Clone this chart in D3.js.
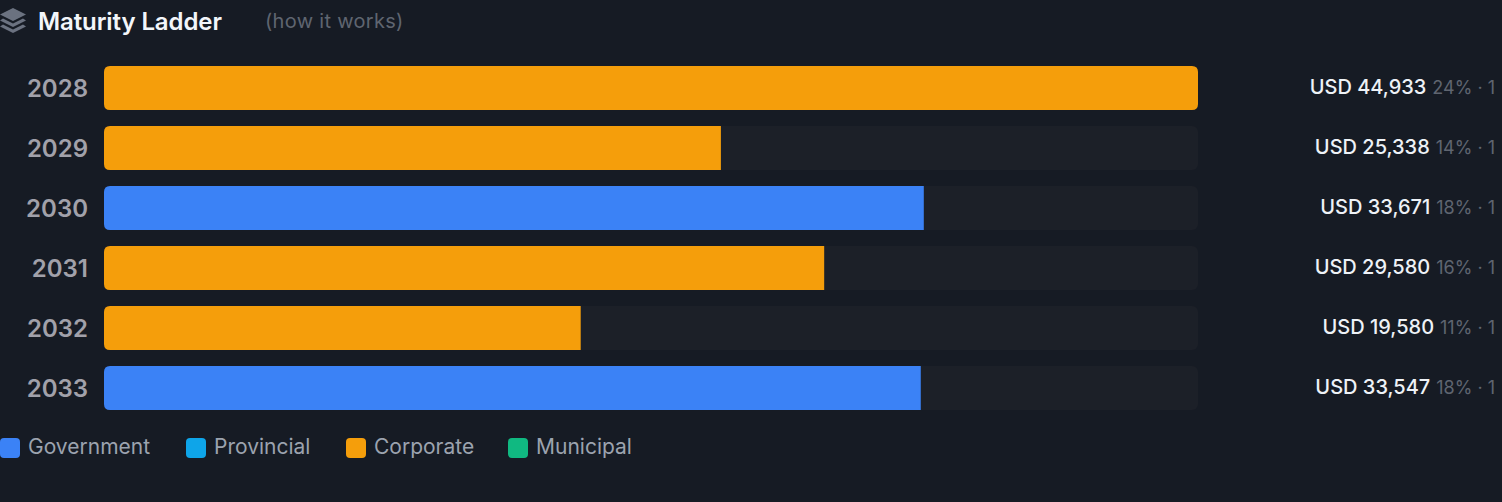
<!DOCTYPE html>
<html><head><meta charset="utf-8">
<script src="https://cdnjs.cloudflare.com/ajax/libs/d3/7.8.5/d3.min.js"></script>
<style>html,body{margin:0;padding:0;background:#161b24;overflow:hidden}svg{display:block;font-family:Inter,sans-serif}</style>
</head><body><svg id="c" width="1502" height="502"></svg>
<script>
const years = ["2028","2029","2030","2031","2032","2033"];
const amounts = [44933,25338,33671,29580,19580,33547];
const sectors = ["Corporate","Corporate","Government","Corporate","Corporate","Government"];
const shares = ["24%","14%","18%","16%","11%","18%"];
const counts = [1,1,1,1,1,1];
const legendNames = ["Government","Provincial","Corporate","Municipal"];
const legendColors = ["#3b82f6","#0ea5e9","#f59e0b","#10b981"];

const svg = d3.select("#c");
const color = d3.scaleOrdinal(legendNames, legendColors);
const x = d3.scaleLinear().domain([0, d3.max(amounts)]).range([104, 1198]);
const y = d3.scaleBand().domain(years).range([58, 418]).paddingInner(16/60).paddingOuter(8/60);

svg.append("rect").attr("width",1502).attr("height",502).attr("fill","#161b24");

// icon
const icon = svg.append("g").attr("transform","translate(0,8)").attr("fill","#6b7280");
icon.append("path").attr("d","M13 0 L26 6.5 L13 13 L0 6.5 Z");
icon.append("path").attr("d","M3 10.5 L13 15.5 L23 10.5 L26 12.5 L13 19 L0 12.5 Z");
icon.append("path").attr("d","M3 16.5 L13 21.5 L23 16.5 L26 18.5 L13 25 L0 18.5 Z");

svg.append("text").attr("x",38).attr("y",30).attr("fill","#f3f6fa").attr("font-size",24).attr("font-weight",600).attr("letter-spacing","-0.1").text("Maturity Ladder");
svg.append("text").attr("x",265).attr("y",28).attr("fill","#5f6570").attr("font-size",20).attr("letter-spacing","0.3").text("(how it works)");

const rows = svg.selectAll("g.row").data(years).join("g").attr("class","row");
rows.append("rect").attr("x",x(0)).attr("y",d=>y(d)).attr("width",x.range()[1]-x(0)).attr("height",y.bandwidth()).attr("rx",6).attr("fill","#1c2028");

// bars: rounded on the left; right side rounded only when full
rows.append("path").attr("fill",(d,i)=>color(sectors[i])).attr("d",(d,i)=>{
  const x0=x(0), x1=x(amounts[i]), t=y(d), h=y.bandwidth(), r=6, rr=amounts[i]===d3.max(amounts)?6:0;
  return `M${x0+r},${t}H${x1-rr}Q${x1},${t} ${x1},${t+rr}V${t+h-rr}Q${x1},${t+h} ${x1-rr},${t+h}H${x0+r}Q${x0},${t+h} ${x0},${t+h-r}V${t+r}Q${x0},${t} ${x0+r},${t}Z`;
});

rows.append("text").attr("x",88).attr("y",d=>y(d)+y.bandwidth()/2+9).attr("text-anchor","end")
  .attr("fill","#a1a1aa").attr("font-size",24).attr("font-weight",600).text(d=>d);

const lab = rows.append("text").attr("x",1495).attr("y",d=>y(d)+y.bandwidth()/2+6).attr("text-anchor","end");
lab.append("tspan").attr("fill","#eef2f7").attr("font-size",20).attr("font-weight",500).text((d,i)=>"USD "+d3.format(",")(amounts[i]));
lab.append("tspan").attr("fill","#5f6570").attr("font-size",18).attr("dx",6).text((d,i)=>shares[i]+" · "+counts[i]);

const legendX = [0,186,346,508];
const lg = svg.selectAll("g.lg").data(legendNames).join("g").attr("class","lg")
  .attr("transform",(d,i)=>`translate(${legendX[i]},438)`);
lg.append("rect").attr("width",20).attr("height",20).attr("rx",4).attr("fill",d=>color(d));
lg.append("text").attr("x",28).attr("y",16).attr("fill","#9ca3af").attr("font-size",21).text(d=>d);
</script></body></html>
